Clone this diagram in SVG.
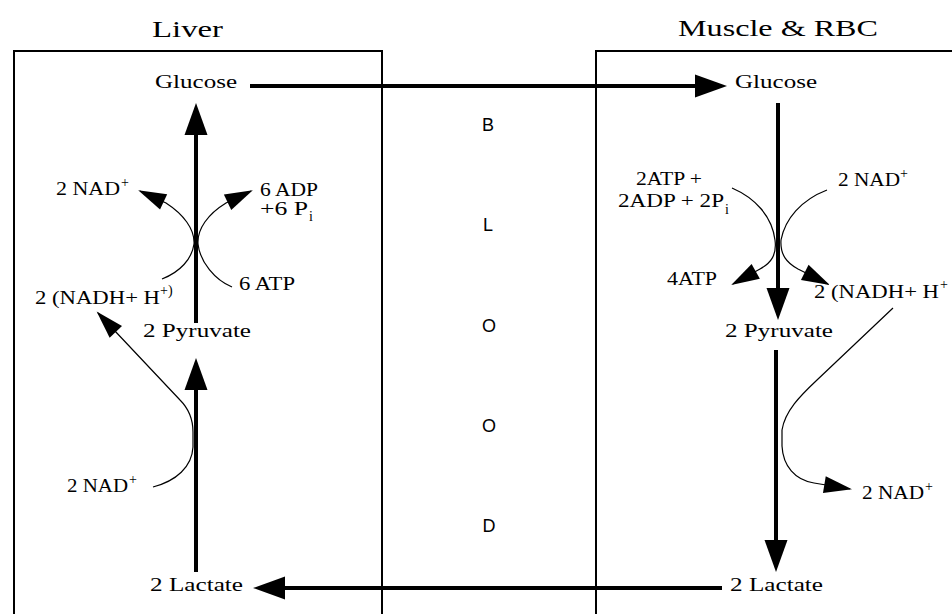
<svg xmlns="http://www.w3.org/2000/svg" width="952" height="614" viewBox="0 0 952 614">
  <style>
    .t { font-family: "Liberation Serif", "Times New Roman", serif; font-size: 19px; fill: #000; }
    .title { font-family: "Liberation Serif", "Times New Roman", serif; font-size: 23px; fill: #000; }
    .sup { font-family: "Liberation Serif", "Times New Roman", serif; font-size: 14px; fill: #000; }
    .blood { font-family: "Liberation Sans", Arial, sans-serif; font-size: 18px; fill: #000; text-anchor: middle; }
    .box { fill: none; stroke: #000; stroke-width: 2; }
    .main { fill: none; stroke: #000; stroke-width: 4; marker-end: url(#big); }
    .side { fill: none; stroke: #000; stroke-width: 1.2; marker-end: url(#small); }
  </style>
  <defs>
    <marker id="big" markerUnits="userSpaceOnUse" viewBox="-26 -13 36 26" markerWidth="36" markerHeight="26" refX="0" refY="0" orient="auto">
      <path d="M8,0 L-24,-11.5 L-24,11.5 Z" fill="#000"/>
    </marker>
    <marker id="small" markerUnits="userSpaceOnUse" viewBox="-28 -10 34 20" markerWidth="34" markerHeight="20" refX="0" refY="0" orient="auto">
      <path d="M2,0 L-26,-8.5 L-26,8.5 Z" fill="#000"/>
    </marker>
  </defs>

  <rect width="952" height="614" fill="#fff"/>

  <!-- compartments -->
  <g id="liver">
    <path class="box" d="M14,620 V51 H382 V620"/>
    <text class="title" x="152" y="37" textLength="71" lengthAdjust="spacingAndGlyphs">Liver</text>
  </g>
  <g id="muscle">
    <path class="box" d="M596,620 V51 H960"/>
    <text class="title" x="678" y="36" textLength="200" lengthAdjust="spacingAndGlyphs">Muscle &amp; RBC</text>
  </g>
  <g id="blood">
    <text class="blood" x="488" y="131">B</text>
    <text class="blood" x="488" y="231">L</text>
    <text class="blood" x="489" y="332">O</text>
    <text class="blood" x="489" y="432">O</text>
    <text class="blood" x="489" y="532">D</text>
  </g>

  <!-- liver metabolites -->
  <g id="liver-glucose"><text class="t" x="155" y="88" textLength="82" lengthAdjust="spacingAndGlyphs">Glucose</text></g>
  <g id="liver-pyruvate"><text class="t" x="143" y="337" textLength="108" lengthAdjust="spacingAndGlyphs">2 Pyruvate</text></g>
  <g id="liver-lactate"><text class="t" x="150" y="591" textLength="93" lengthAdjust="spacingAndGlyphs">2 Lactate</text></g>
  <g id="liver-nad-top">
    <text class="t" x="56" y="195" textLength="64" lengthAdjust="spacingAndGlyphs">2 NAD</text>
    <text class="sup" x="121" y="187">+</text>
  </g>
  <g id="liver-adp">
    <text class="t" x="260" y="196" textLength="58" lengthAdjust="spacingAndGlyphs">6 ADP</text>
    <text class="t" x="260" y="215" textLength="48" lengthAdjust="spacingAndGlyphs">+6 P</text>
    <text class="sup" x="309" y="221">i</text>
  </g>
  <g id="liver-atp"><text class="t" x="239" y="290" textLength="56" lengthAdjust="spacingAndGlyphs">6 ATP</text></g>
  <g id="liver-nadh">
    <text class="t" x="35" y="304" textLength="125" lengthAdjust="spacingAndGlyphs">2 (NADH+ H</text>
    <text class="sup" x="160" y="295">+)</text>
  </g>
  <g id="liver-nad-low">
    <text class="t" x="67" y="492" textLength="61" lengthAdjust="spacingAndGlyphs">2 NAD</text>
    <text class="sup" x="129" y="484">+</text>
  </g>

  <!-- muscle metabolites -->
  <g id="muscle-glucose"><text class="t" x="735" y="88" textLength="82" lengthAdjust="spacingAndGlyphs">Glucose</text></g>
  <g id="muscle-atp-in">
    <text class="t" x="636" y="185" textLength="66" lengthAdjust="spacingAndGlyphs">2ATP +</text>
    <text class="t" x="618" y="207" textLength="106" lengthAdjust="spacingAndGlyphs">2ADP + 2P</text>
    <text class="sup" x="725" y="214">i</text>
  </g>
  <g id="muscle-nad-top">
    <text class="t" x="838" y="186" textLength="62" lengthAdjust="spacingAndGlyphs">2 NAD</text>
    <text class="sup" x="900" y="178">+</text>
  </g>
  <g id="muscle-atp-out"><text class="t" x="667" y="285" textLength="50" lengthAdjust="spacingAndGlyphs">4ATP</text></g>
  <g id="muscle-nadh">
    <text class="t" x="814" y="298" textLength="125" lengthAdjust="spacingAndGlyphs">2 (NADH+ H</text>
    <text class="sup" x="940" y="289">+</text>
  </g>
  <g id="muscle-pyruvate"><text class="t" x="725" y="337" textLength="108" lengthAdjust="spacingAndGlyphs">2 Pyruvate</text></g>
  <g id="muscle-nad-low">
    <text class="t" x="862" y="499" textLength="62" lengthAdjust="spacingAndGlyphs">2 NAD</text>
    <text class="sup" x="925" y="491">+</text>
  </g>
  <g id="muscle-lactate"><text class="t" x="730" y="591" textLength="93" lengthAdjust="spacingAndGlyphs">2 Lactate</text></g>

  <!-- connectors -->
  <g id="connectors">
    <!-- glucose out of the liver, lactate back from muscle -->
    <path class="main" d="M250,86 H719"/>
    <path class="main" d="M722,588 H261"/>
    <!-- gluconeogenesis in the liver -->
    <path class="main" d="M196,323 V111"/>
    <path class="main" d="M196,572 V366"/>
    <!-- glycolysis in muscle -->
    <path class="main" d="M778,103 V312"/>
    <path class="main" d="M776,350 V564"/>

    <!-- liver cofactors -->
    <path class="side" d="M162,279 C180,272 192,259 194,244 C195,229 183,214 166,203 L140,191"/>
    <path class="side" d="M232,287 C215,280 200,262 198,244 C197,229 208,214 226,203 L251,191"/>
    <path class="side" d="M153,487 C176,481 192,467 193,447 L193,432 C193,417 188,408 180,400 L98,313"/>

    <!-- muscle cofactors -->
    <path class="side" d="M732,188 C755,198 772,216 775,240 C777,255 771,263 760,269 L733,284"/>
    <path class="side" d="M827,190 C801,200 785,219 781,240 C780,255 787,263 798,269 L828,284"/>
    <path class="side" d="M893,308 L817,380 C800,396 785,411 782,430 L782,446 C783,466 795,480 814,483 L850,489"/>
  </g>
</svg>
